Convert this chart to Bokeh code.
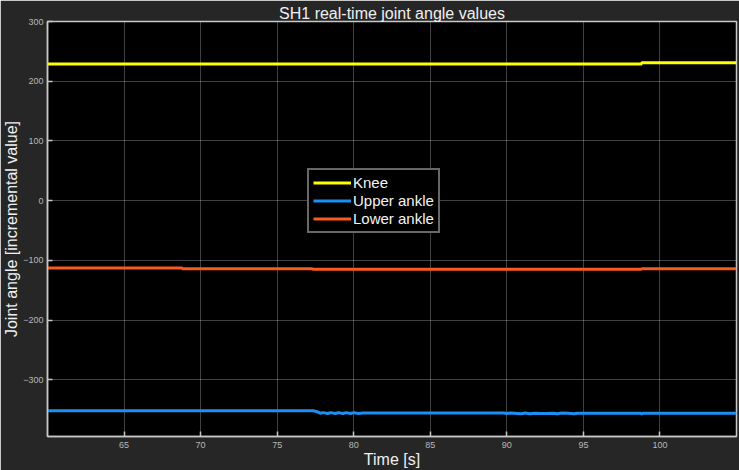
from bokeh.plotting import figure
from bokeh.models import Range1d, Legend, LegendItem, FixedTicker
from bokeh.embed import file_html
from bokeh.resources import INLINE

# Joint angle samples (time in s, angle in incremental units)
knee_t = [60.0, 98.8, 105.0]
knee = [229, 231, 231]

upper_t = [60.0, 77.4, 77.6, 77.8, 78.0, 78.3, 78.5, 78.8, 79.0, 79.3, 79.5, 79.8, 80.0, 80.3, 80.6,
           89.8, 90.0, 90.3, 90.9, 91.2, 91.5, 91.8, 92.2, 92.6, 93.0, 93.3, 93.6, 94.0, 94.4, 94.6,
           98.7, 98.8, 98.9, 105.0]
upper = [-352, -352, -353.5, -356, -355, -356.5, -355, -356.5, -355, -356.5, -355, -356.5, -355, -356.5, -355.5,
         -355.5, -356.5, -355.5, -357, -355.5, -357, -356, -356.5, -356.5, -356, -357, -355.5, -356, -357, -356,
         -356, -357, -356, -356]

lower_t = [60.0, 68.8, 77.3, 98.8, 105.0]
lower = [-113, -114, -115, -114, -114]

x_ticks = [65, 70, 75, 80, 85, 90, 95, 100]
y_ticks = [-300, -200, -100, 0, 100, 200, 300]

FIG_BG = "#262626"
AXIS_C = "#c8c8c8"
TICK_LABEL_C = "#b8b8b8"
FONT = "Liberation Sans"

p = figure(width=739, height=470, output_backend="svg", toolbar_location=None,
           x_range=Range1d(60, 105), y_range=Range1d(-395, 300),
           min_border_left=47, min_border_right=3, min_border_top=21, min_border_bottom=34,
           title="SH1 real-time joint angle values")

p.background_fill_color = "black"
p.border_fill_color = FIG_BG
p.outline_line_color = AXIS_C
p.outline_line_width = 1.5

p.title.text_color = "#f0f0f0"
p.title.text_font = FONT
p.title.text_font_size = "16px"
p.title.text_font_style = "normal"
p.title.align = "center"
p.title.standoff = 0
p.title.offset = 0

for ax in (p.xaxis[0], p.yaxis[0]):
    ax.axis_line_color = AXIS_C
    ax.axis_line_width = 1.5
    ax.major_tick_line_color = AXIS_C
    ax.major_tick_line_width = 1.5
    ax.major_tick_in = 5
    ax.major_tick_out = 0
    ax.minor_tick_line_color = None
    ax.major_label_text_color = TICK_LABEL_C
    ax.major_label_text_font = FONT
    ax.major_label_text_font_size = "9px"
    ax.axis_label_text_color = "#f0f0f0"
    ax.axis_label_text_font = FONT
    ax.axis_label_text_font_size = "16px"
    ax.axis_label_text_font_style = "normal"

p.xaxis.ticker = FixedTicker(ticks=x_ticks)
p.yaxis.ticker = FixedTicker(ticks=y_ticks)
p.xaxis.axis_label = "Time [s]"
p.yaxis.axis_label = "Joint angle [incremental value]"
p.xaxis.major_label_standoff = 5
p.yaxis.major_label_standoff = 4
p.xaxis.axis_label_standoff = 0
p.yaxis.axis_label_standoff = 0

p.xgrid.ticker = FixedTicker(ticks=x_ticks)
p.ygrid.ticker = FixedTicker(ticks=y_ticks)
p.grid.grid_line_color = "#ffffff"
p.grid.grid_line_alpha = 0.25
p.grid.grid_line_width = 1

r_knee = p.step(knee_t, knee, mode="after", line_color="#ffff00", line_width=3)
r_upper = p.line(upper_t, upper, line_color="#1a90f5", line_width=3)
r_lower = p.step(lower_t, lower, mode="after", line_color="#fa5a1e", line_width=3)

legend = Legend(items=[LegendItem(label="Knee", renderers=[r_knee]),
                       LegendItem(label="Upper ankle", renderers=[r_upper]),
                       LegendItem(label="Lower ankle", renderers=[r_lower])],
                location=(260, 203))
legend.background_fill_color = "black"
legend.background_fill_alpha = 1.0
legend.border_line_color = "#d0d0d0"
legend.border_line_width = 2
legend.label_text_color = "#f4f4f4"
legend.label_text_font = FONT
legend.label_text_font_size = "15px"
legend.glyph_width = 38
legend.glyph_height = 17
legend.label_height = 17
legend.label_standoff = 2
legend.spacing = 1
legend.padding = 4
legend.margin = 0
p.add_layout(legend, "center")

out = file_html(p, INLINE)
open("out.html", "w").write(out)
